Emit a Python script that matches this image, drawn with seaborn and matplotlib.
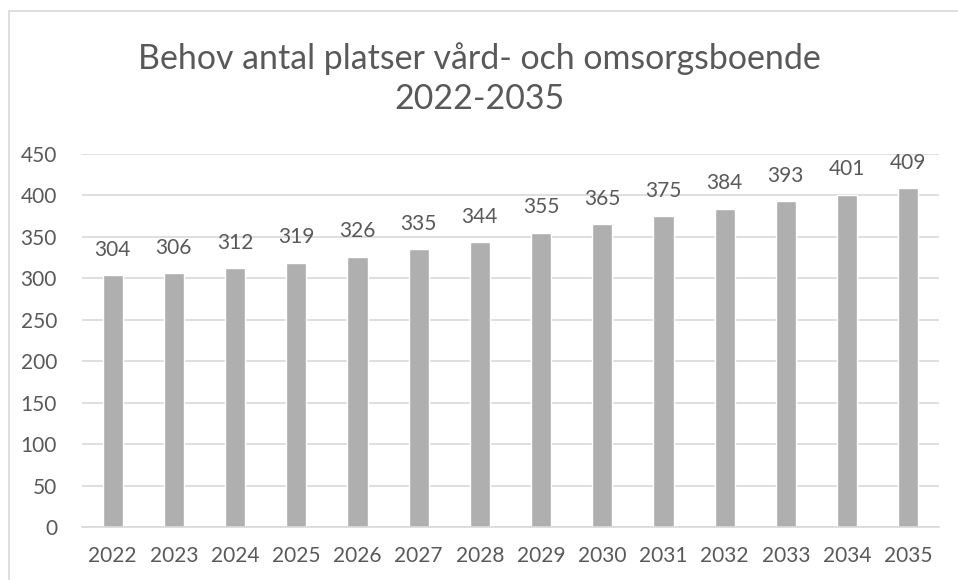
import matplotlib
matplotlib.use("Agg")
import matplotlib.pyplot as plt
import seaborn as sns
import pandas as pd
from matplotlib.patches import Rectangle

# Data
years = ["2022", "2023", "2024", "2025", "2026", "2027", "2028",
         "2029", "2030", "2031", "2032", "2033", "2034", "2035"]
platser = [304, 306, 312, 319, 326, 335, 344, 355, 365, 375, 384, 393, 401, 409]

df = pd.DataFrame({"year": years, "platser": platser})

sns.set_theme(style="white")
plt.rcParams['font.family'] = ['Lato', 'DejaVu Sans']
text_color = '#595959'

fig = plt.figure(figsize=(9.58, 5.8), dpi=100)
ax = fig.add_axes([0.0856, 0.0914, 0.8944, 0.6431])

sns.barplot(data=df, x="year", y="platser", color='#AFAFAF', width=0.33,
            saturation=1, ax=ax)

for c in ax.containers:
    ax.bar_label(c, padding=11, fontsize=15, color=text_color)

ax.set_ylim(0, 450)
ax.set_yticks(range(0, 451, 50))
ax.set_xlim(-0.5, len(years) - 0.5)
ax.yaxis.grid(True, color='#D9D9D9', linewidth=1.2)
ax.set_axisbelow(True)
for s in ['top', 'right', 'left']:
    ax.spines[s].set_visible(False)
ax.spines['bottom'].set_color('#D9D9D9')
ax.spines['bottom'].set_linewidth(1.2)
ax.tick_params(axis='both', length=0, labelsize=15, labelcolor=text_color)
ax.tick_params(axis='y', pad=18)
ax.tick_params(axis='x', pad=14)
ax.set_xlabel('')
ax.set_ylabel('')

fig.text(0.5, 0.865, 'Behov antal platser vård- och omsorgsboende\n2022-2035',
         ha='center', va='center', fontsize=24.4, color=text_color, linespacing=1.3)

# outer chart border (right and bottom edges fall outside the image)
fig.patches.append(Rectangle((9 / 958, -0.05), 1.0, 1.05 - 11 / 580,
                             transform=fig.transFigure, fill=False,
                             edgecolor='#D9D9D9', linewidth=1.2))

fig.savefig('out.png', dpi=100)
